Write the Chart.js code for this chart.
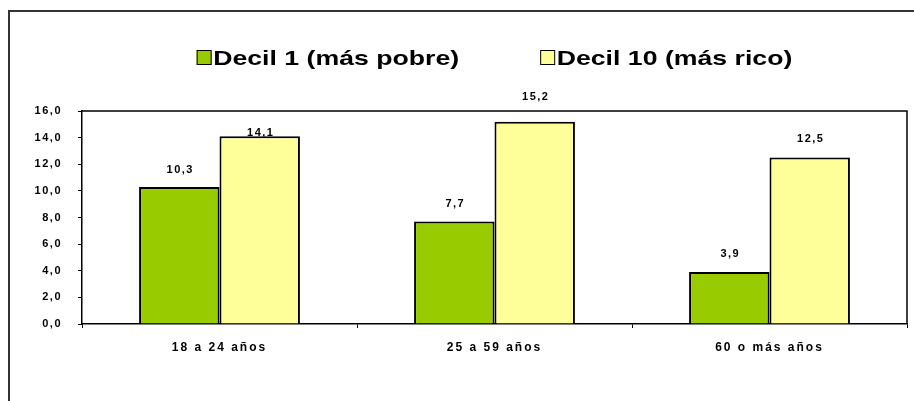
<!DOCTYPE html>
<html>
<head>
<meta charset="utf-8">
<script src="https://cdn.jsdelivr.net/npm/chart.js@4"></script>
<style>
  html, body { margin: 0; padding: 0; background: #fff; }
  canvas { display: block; }
</style>
</head>
<body>
<canvas id="deciles" width="914" height="401"></canvas>
<script>
var ageGroups = ['18 a 24 años', '25 a 59 años', '60 o más años'];
var seriesNames = ['Decil 1 (más pobre)', 'Decil 10 (más rico)'];
var decil1 = [10.3, 7.7, 3.9];
var decil10 = [14.1, 15.2, 12.5];
var yTicks = [0, 2, 4, 6, 8, 10, 12, 14, 16];

var FONT = '"Liberation Sans", Arial, sans-serif';

function coma(v) {
    return Number(v).toFixed(1).replace('.', ',');
}

// outer frame and plot box; small labels get a bit of letter spacing
var framePlugin = {
    id: 'frame',
    beforeDraw: function (chart) {
        var ctx = chart.ctx, a = chart.chartArea;
        ctx.save();
        ctx.strokeStyle = '#333';
        ctx.lineWidth = 2;
        ctx.beginPath();
        ctx.moveTo(9, chart.height);
        ctx.lineTo(9, 11);
        ctx.lineTo(chart.width, 11);
        ctx.stroke();
        ctx.strokeStyle = '#000';
        ctx.lineWidth = 1.5;
        ctx.beginPath();
        ctx.moveTo(a.left, a.top);
        ctx.lineTo(a.right, a.top);
        ctx.lineTo(a.right, a.bottom);
        ctx.stroke();
        ctx.restore();
        ctx.letterSpacing = '1.5px';
    },
    afterDraw: function (chart) {
        chart.ctx.letterSpacing = '0px';
    }
};

// value above each bar
var valueLabels = {
    id: 'valueLabels',
    afterDatasetsDraw: function (chart, args, opts) {
        var ctx = chart.ctx;
        ctx.save();
        ctx.font = 'bold 11px ' + FONT;
        ctx.fillStyle = '#000';
        ctx.textAlign = 'center';
        ctx.textBaseline = 'middle';
        chart.data.datasets.forEach(function (ds, i) {
            chart.getDatasetMeta(i).data.forEach(function (bar, j) {
                ctx.fillText(coma(ds.data[j]), bar.x + 1, bar.y - opts.lift[i][j]);
            });
        });
        ctx.restore();
        // x axis labels are drawn after this (ticks z = 1)
        ctx.letterSpacing = '2px';
    }
};

// legend row centred over the plot
var legendRow = {
    id: 'legendRow',
    afterDraw: function (chart, args, opts) {
        var ctx = chart.ctx, a = chart.chartArea;
        ctx.save();
        ctx.letterSpacing = '0px';
        ctx.font = 'bold 21px ' + FONT;
        var items = chart.data.datasets.map(function (ds) {
            return {
                text: ds.label,
                color: ds.backgroundColor,
                w: ctx.measureText(ds.label).width * opts.stretch
            };
        });
        var box = 15, gap = 1.5;
        var total = opts.spacing * (items.length - 1);
        items.forEach(function (it) { total += box + gap + it.w; });
        var x = (a.left + a.right) / 2 - total / 2;
        var base = opts.baseline;
        items.forEach(function (it) {
            ctx.fillStyle = it.color;
            ctx.fillRect(x, base - box, box, box);
            ctx.strokeStyle = '#000';
            ctx.lineWidth = 1;
            ctx.strokeRect(x + 0.5, base - box + 0.5, box - 1, box - 1);
            x += box + gap;
            ctx.save();
            ctx.translate(x, base);
            ctx.scale(opts.stretch, 1);
            ctx.fillStyle = '#000';
            ctx.textAlign = 'left';
            ctx.textBaseline = 'alphabetic';
            ctx.fillText(it.text, 0, 0);
            ctx.restore();
            x += it.w + opts.spacing;
        });
        ctx.restore();
    }
};

var ctx = document.getElementById('deciles').getContext('2d');

var chart = new Chart(ctx, {
    type: 'bar',
    data: {
        labels: ageGroups,
        datasets: [{
            label: seriesNames[0],
            data: decil1,
            backgroundColor: '#99CC00',
            borderColor: '#000',
            borderWidth: 2
        }, {
            label: seriesNames[1],
            data: decil10,
            backgroundColor: '#FFFF99',
            borderColor: '#000',
            borderWidth: 2
        }]
    },
    plugins: [framePlugin, valueLabels, legendRow],
    options: {
        responsive: false,
        animation: false,
        layout: {
            padding: { left: 0, right: 7, top: 111, bottom: 0 }
        },
        datasets: {
            bar: { categoryPercentage: 0.585, barPercentage: 1 }
        },
        plugins: {
            legend: { display: false },
            tooltip: { enabled: false },
            valueLabels: { lift: [[17, 17.5, 18], [3.5, 25, 18.5]] },
            legendRow: { stretch: 1.27, spacing: 81, baseline: 65 }
        },
        scales: {
            x: {
                grid: { offset: true, drawOnChartArea: false, color: '#000', tickLength: 4 },
                border: { color: '#000', width: 1.5 },
                ticks: {
                    z: 1,
                    padding: 12,
                    color: '#000',
                    font: { family: FONT, size: 12, weight: 'bold' }
                },
                afterFit: function (scale) { scale.height = 77; }
            },
            y: {
                min: 0,
                max: 16,
                afterBuildTicks: function (scale) {
                    scale.ticks = yTicks.map(function (v) { return { value: v }; });
                },
                grid: { drawOnChartArea: false, color: '#000', tickLength: 4 },
                border: { color: '#000', width: 1.5 },
                ticks: {
                    padding: 16,
                    color: '#000',
                    font: { family: FONT, size: 11, weight: 'bold' },
                    callback: function (v) { return coma(v); }
                },
                afterFit: function (scale) { scale.width = 82; }
            }
        }
    }
});
</script>
</body>
</html>
